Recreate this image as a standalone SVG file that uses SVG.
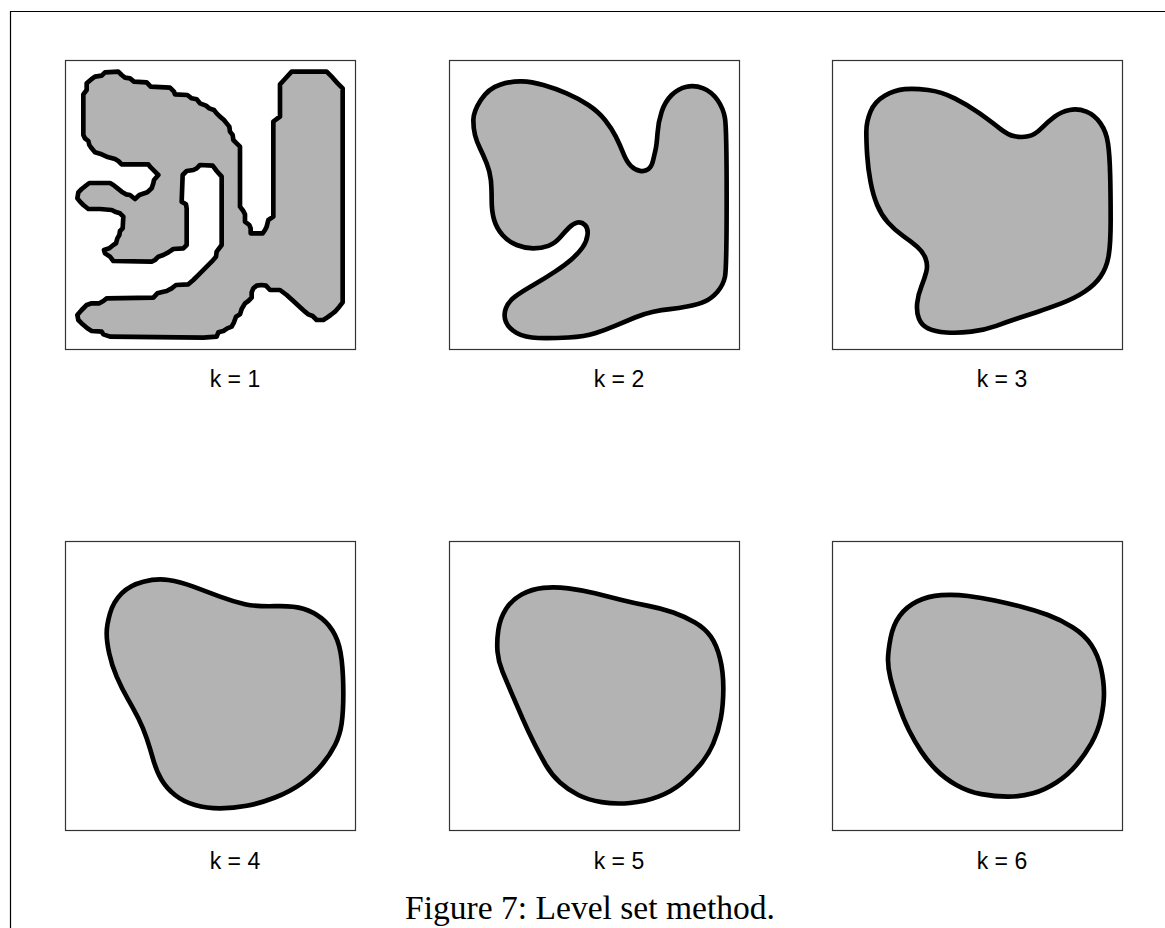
<svg xmlns="http://www.w3.org/2000/svg" width="1165" height="928" viewBox="0 0 1165 928">
<style>
.frame{fill:none;stroke:#000;stroke-width:1.2}
.panel{fill:#fff;stroke:#333;stroke-width:1.2}
.shape{fill:#b3b3b3;stroke:#000;stroke-width:14;stroke-linejoin:round}
.lbl{font-family:"Liberation Sans",Arial,sans-serif;font-size:23px;text-anchor:middle;fill:#000}
.cap{font-family:"Liberation Serif","Times New Roman",serif;font-size:33px;text-anchor:middle;fill:#000}
</style>
<rect width="1165" height="928" fill="#fff"/>
<path class="frame" d="M10.5,928 V11.5 H1165"/>

<g id="panel-k1">
<rect class="panel" x="65.5" y="60.5" width="290" height="289"/>
<g transform="translate(60,55) scale(0.33333)">
<polygon class="shape" points="70,118 80,105 80,85 95,72 105,65 125,62 135,52 175,50 185,60 195,68 210,70 222,80 260,82 272,95 330,98 342,110 345,118 382,120 395,130 410,133 420,145 438,152 448,160 462,165 470,175 480,185 492,195 500,205 508,215 510,230 518,240 520,255 530,265 540,275 540,455 550,468 555,478 555,500 568,510 572,520 572,535 608,535 615,525 620,515 625,495 640,485 640,200 650,192 660,185 660,88 672,75 695,50 800,50 818,68 830,82 848,100 848,742 838,755 825,770 812,780 798,790 790,795 770,795 758,783 745,778 735,770 700,738 680,720 660,705 630,705 618,692 605,690 590,692 580,700 575,712 575,728 565,738 555,745 545,762 540,778 528,785 522,802 515,815 502,820 490,828 475,832 470,845 430,848 150,845 130,838 125,830 95,828 82,820 68,808 55,795 52,780 65,765 80,750 95,745 118,745 130,738 140,730 280,728 292,715 310,710 320,708 335,700 348,690 385,688 400,675 420,655 440,635 455,620 468,605 470,590 485,570 485,365 470,348 458,332 420,330 410,340 400,345 380,348 368,360 365,440 378,448 380,460 380,570 370,580 340,582 325,592 310,600 295,605 285,615 275,620 160,618 150,605 135,595 132,585 148,580 160,570 168,565 172,550 178,540 180,528 188,520 190,485 180,475 165,470 155,465 120,462 85,462 70,450 60,440 52,430 55,412 65,402 80,390 88,384 150,384 160,390 170,398 185,410 198,418 210,420 225,432 238,420 262,412 275,400 280,385 282,375 295,360 285,350 270,335 265,328 185,328 175,318 165,312 140,305 125,298 105,292 95,280 88,270 85,258 75,250 70,240 70,190"/>
</g>
<text class="lbl" x="235" y="387">k = 1</text>
</g>

<g id="panel-k2">
<rect class="panel" x="449.5" y="60.5" width="290" height="289"/>
<g transform="translate(445,55) scale(0.33333)">
<path class="shape" d="M 85,195 Q 85,170 107.5,135 Q 130,100 165,89 Q 200,78 230,79 Q 260,80 295,90 Q 330,100 365,115 Q 400,130 430,150 Q 460,170 480,195 Q 500,220 512.5,245 Q 525,270 535,295 Q 545,320 557.5,332.5 Q 570,345 585,347.5 Q 600,350 610,342.5 Q 620,335 624,317.5 Q 628,300 631.5,285 Q 635,270 637.5,235 Q 640,200 650,170 Q 660,140 680,120 Q 700,100 725,95 Q 750,90 775,100 Q 800,110 817.5,135 Q 835,160 840,190 Q 845,220 845,430 Q 845,640 840,665 Q 835,690 817.5,710 Q 800,730 780,739 Q 760,748 730,754 Q 700,760 675,762.5 Q 650,765 625,770 Q 600,775 570,787.5 Q 540,800 510,812.5 Q 480,825 450,835 Q 420,845 370,847.5 Q 320,850 280,849 Q 240,848 215,834 Q 190,820 182.5,800 Q 175,780 182.5,760 Q 190,740 210,725 Q 230,710 265,690 Q 300,670 330,650 Q 360,630 380,612.5 Q 400,595 412.5,577.5 Q 425,560 427.5,540 Q 430,520 420,510 Q 410,500 397.5,502.5 Q 385,505 372.5,517.5 Q 360,530 345,547.5 Q 330,565 310,572.5 Q 290,580 265,580 Q 240,580 215,570 Q 190,560 172.5,540 Q 155,520 147.5,495 Q 140,470 140,435 Q 140,400 137.5,375 Q 135,350 125,325 Q 115,300 105,280 Q 95,260 90,240 Q 85,220 85,195 Z"/>
</g>
<text class="lbl" x="619" y="387">k = 2</text>
</g>

<g id="panel-k3">
<rect class="panel" x="832.5" y="60.5" width="290" height="289"/>
<g transform="translate(828,55) scale(0.33333)">
<path class="shape" d="M 115,230 Q 115,200 127.5,170 Q 140,140 170,122.5 Q 200,105 230,102.5 Q 260,100 300,105 Q 340,110 380,130 Q 420,150 455,175 Q 490,200 515,220 Q 540,240 560,244 Q 580,248 600,244 Q 620,240 640,220 Q 660,200 680,185 Q 700,170 725,165 Q 750,160 775,170 Q 800,180 817.5,205 Q 835,230 840,265 Q 845,300 846.5,360 Q 848,420 848,495 Q 848,570 841.5,605 Q 835,640 817.5,665 Q 800,690 770,710 Q 740,730 700,745 Q 660,760 630,770 Q 600,780 570,790 Q 540,800 505,812.5 Q 470,825 430,830 Q 390,835 355,832.5 Q 320,830 300,820 Q 280,810 272.5,790 Q 265,770 267.5,745 Q 270,720 280,695 Q 290,670 295,650 Q 300,630 292.5,610 Q 285,590 267.5,575 Q 250,560 225,542.5 Q 200,525 180,502.5 Q 160,480 147.5,450 Q 135,420 127.5,380 Q 120,340 117.5,300 Q 115,260 115,230 Z"/>
</g>
<text class="lbl" x="1002" y="387">k = 3</text>
</g>

<g id="panel-k4">
<rect class="panel" x="65.5" y="541.5" width="290" height="289"/>
<g transform="translate(60,535) scale(0.33333)">
<path class="shape" d="M 140,295 Q 140,270 150,235 Q 160,200 185,175 Q 210,150 250,140 Q 290,130 325,135 Q 360,140 400,155 Q 440,170 480,185 Q 520,200 555,207.5 Q 590,215 645,213.5 Q 700,212 730,221 Q 760,230 785,250 Q 810,270 825,300 Q 840,330 845,375 Q 850,420 850,475 Q 850,530 845,565 Q 840,600 825,630 Q 810,660 785,690 Q 760,720 725,745 Q 690,770 645,787.5 Q 600,805 560,812.5 Q 520,820 480,820 Q 440,820 405,810 Q 370,800 345,780 Q 320,760 305,735 Q 290,710 280,675 Q 270,640 260,610 Q 250,580 235,550 Q 220,520 202.5,490 Q 185,460 170,425 Q 155,390 147.5,355 Q 140,320 140,295 Z"/>
</g>
<text class="lbl" x="235" y="869">k = 4</text>
</g>

<g id="panel-k5">
<rect class="panel" x="449.5" y="541.5" width="290" height="289"/>
<g transform="translate(445,535) scale(0.33333)">
<path class="shape" d="M 157.5,350 Q 155,320 160,285 Q 165,250 182.5,222.5 Q 200,195 230,178.5 Q 260,162 295,158.5 Q 330,155 370,160 Q 410,165 450,175 Q 490,185 530,195 Q 570,205 610,212.5 Q 650,220 685,232.5 Q 720,245 750,262.5 Q 780,280 797.5,305 Q 815,330 825,370 Q 835,410 835,460 Q 835,510 827.5,550 Q 820,590 805,625 Q 790,660 765,690 Q 740,720 710,745 Q 680,770 640,785 Q 600,800 555,804 Q 510,808 470,801.5 Q 430,795 400,780 Q 370,765 345,742.5 Q 320,720 302.5,690 Q 285,660 267.5,625 Q 250,590 232.5,550 Q 215,510 200,475 Q 185,440 172.5,410 Q 160,380 157.5,350 Z"/>
</g>
<text class="lbl" x="619" y="869">k = 5</text>
</g>

<g id="panel-k6">
<rect class="panel" x="832.5" y="541.5" width="290" height="289"/>
<g transform="translate(828,535) scale(0.33333)">
<path class="shape" d="M 180,375 Q 180,350 187.5,310 Q 195,270 215,242.5 Q 235,215 267.5,199 Q 300,183 340,180.5 Q 380,178 420,183 Q 460,188 500,196.5 Q 540,205 580,215 Q 620,225 660,240 Q 700,255 735,277.5 Q 770,300 790,330 Q 810,360 819,400 Q 828,440 828,475 Q 828,510 819,550 Q 810,590 790,625 Q 770,660 745,690 Q 720,720 685,742.5 Q 650,765 615,775 Q 580,785 540,785 Q 500,785 460,777.5 Q 420,770 385,750 Q 350,730 325,705 Q 300,680 280,650 Q 260,620 242.5,585 Q 225,550 210,505 Q 195,460 187.5,430 Q 180,400 180,375 Z"/>
</g>
<text class="lbl" x="1002" y="869">k = 6</text>
</g>

<text id="caption" class="cap" x="590" y="919" textLength="370" lengthAdjust="spacingAndGlyphs">Figure 7: Level set method.</text>
</svg>
